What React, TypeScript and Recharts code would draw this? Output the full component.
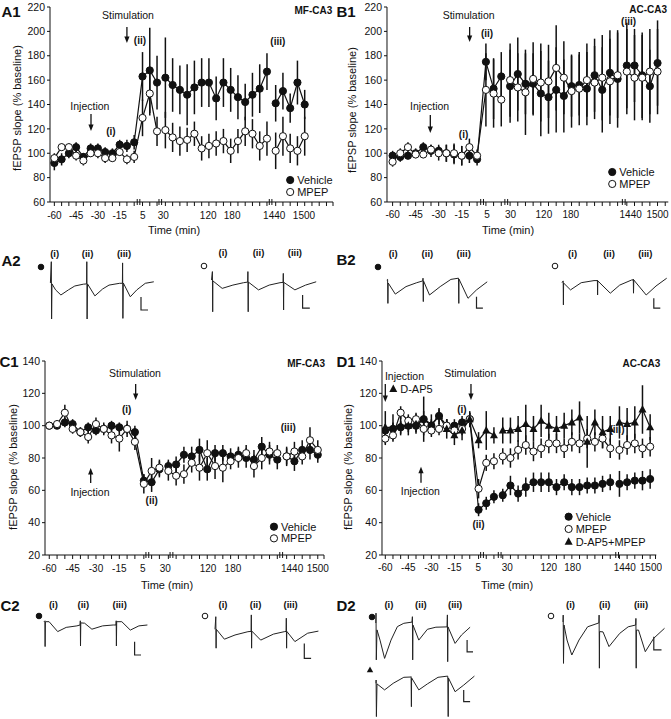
import React from "react";
import { LineChart, Line, XAxis, YAxis, ErrorBar, ReferenceLine, ReferenceDot } from "recharts";

const FONT = '"Liberation Sans", Arial, Helvetica, sans-serif';
const INK = "#111";

// ---- time points (min); the axis is broken after baseline, after 15 min and after 240 min ----
const baselineTimes = [-60, -55, -50, -45, -40, -35, -30, -25, -20, -15, -10, -5];
const earlyTimes = [5, 10, 15];
const lateTimes = [30, 45, 60, 75, 90, 105, 120, 135, 150, 165, 180, 195, 210, 225, 240];
const dayTimes = [1440, 1455, 1470, 1485, 1500];
const times = [...baselineTimes, ...earlyTimes, ...lateTimes, ...dayTimes];
const tickLabels = ["-60", "-45", "-30", "-15", "5", "30", "120", "180", "1440", "1500"];

// ---- A1: MF-CA3 LTP (% baseline) ----
const a1Vehicle = [92, 95, 100, 105, 97, 104, 104, 101, 100, 107, 106, 109, 163, 168, 158, 162, 156, 152, 148, 154, 158, 158, 145, 158, 152, 146, 142, 148, 153, 167, 141, 151, 137, 158, 140];
const a1VehicleSem = [6, 5, 4, 4, 3, 4, 4, 4, 4, 4, 5, 6, 20, 35, 22, 33, 22, 20, 25, 22, 20, 20, 18, 20, 18, 18, 15, 18, 20, 15, 15, 15, 12, 18, 12];
const a1Mpep = [96, 105, 105, 98, 94, 100, 100, 96, 96, 101, 95, 97, 129, 149, 118, 119, 113, 110, 111, 116, 104, 106, 108, 110, 102, 110, 118, 116, 106, 112, 102, 114, 104, 102, 114];
const a1MpepSem = [4, 3, 3, 4, 4, 3, 4, 4, 3, 3, 4, 5, 15, 18, 12, 15, 12, 12, 10, 10, 10, 10, 10, 10, 10, 10, 12, 12, 12, 14, 15, 16, 12, 12, 16];

// ---- B1: AC-CA3 LTP ----
const b1Vehicle = [98, 97, 98, 100, 105, 102, 102, 100, 99, 98, 98, 95, 175, 153, 163, 155, 165, 157, 157, 149, 146, 152, 147, 155, 156, 153, 164, 152, 166, 161, 172, 172, 164, 155, 174];
const b1VehicleSem = [4, 4, 3, 4, 4, 5, 5, 7, 8, 8, 6, 5, 15, 25, 20, 30, 30, 25, 25, 35, 30, 35, 30, 25, 25, 30, 30, 35, 35, 40, 35, 30, 35, 30, 35];
const b1Mpep = [93, 100, 105, 99, 99, 103, 100, 100, 100, 98, 105, 98, 152, 149, 144, 160, 154, 150, 161, 158, 159, 170, 162, 151, 153, 160, 158, 162, 159, 164, 167, 162, 162, 167, 167];
const b1MpepSem = [4, 4, 4, 3, 3, 4, 6, 7, 8, 8, 7, 5, 30, 28, 22, 30, 28, 35, 30, 32, 30, 35, 30, 30, 30, 30, 30, 35, 35, 35, 35, 35, 35, 35, 35];

// ---- C1: MF-CA3 LTD ----
const c1Vehicle = [100, 100, 102, 101, 96, 99, 97, 98, 100, 99, 98, 96, 66, 65, 73, 75, 76, 82, 81, 85, 73, 83, 83, 81, 82, 80, 79, 87, 82, 79, 81, 78, 85, 85, 82];
const c1VehicleSem = [2, 2, 3, 3, 3, 3, 3, 3, 3, 3, 3, 4, 4, 6, 5, 4, 5, 5, 6, 7, 7, 5, 5, 5, 5, 6, 6, 6, 6, 6, 6, 6, 6, 6, 5];
const c1Mpep = [100, 101, 108, 98, 96, 93, 101, 98, 94, 92, 98, 90, 64, 72, 74, 72, 69, 70, 77, 74, 83, 75, 74, 78, 80, 83, 75, 80, 84, 83, 81, 84, 81, 91, 85];
const c1MpepSem = [2, 2, 5, 3, 3, 4, 4, 4, 5, 8, 5, 5, 6, 8, 5, 6, 6, 6, 6, 8, 8, 8, 9, 5, 6, 5, 7, 7, 6, 5, 5, 6, 5, 8, 6];

// ---- D1: AC-CA3 LTD ----
const d1Vehicle = [97, 98, 99, 100, 100, 104, 100, 106, 100, 100, 102, 104, 48, 52, 56, 57, 63, 58, 62, 65, 65, 65, 62, 65, 62, 62, 63, 63, 64, 65, 64, 65, 66, 66, 67];
const d1VehicleSem = [4, 4, 4, 4, 4, 5, 4, 4, 4, 4, 4, 4, 4, 4, 4, 4, 6, 5, 6, 6, 6, 6, 5, 5, 5, 5, 5, 5, 5, 5, 8, 5, 5, 6, 6];
const d1Mpep = [92, 94, 108, 103, 104, 98, 97, 98, 100, 97, 98, 104, 61, 77, 78, 81, 80, 85, 88, 84, 86, 89, 89, 86, 90, 89, 92, 90, 92, 86, 85, 88, 89, 86, 87];
const d1MpepSem = [4, 4, 4, 4, 4, 4, 4, 4, 4, 4, 4, 4, 6, 5, 5, 5, 6, 6, 6, 6, 6, 6, 6, 6, 6, 6, 6, 6, 6, 6, 6, 6, 6, 6, 6];
const d1Dap5 = [99, 99, 100, 100, 101, 104, 101, 106, 98, 94, 97, 104, 91, 97, 94, 97, 97, 98, 101, 98, 103, 100, 98, 100, 102, 105, 90, 102, 96, 98, 102, 101, 102, 110, 99];
const d1Dap5Sem = [10, 8, 6, 6, 6, 14, 6, 5, 6, 6, 6, 5, 5, 12, 5, 8, 8, 8, 12, 8, 10, 8, 8, 8, 8, 10, 16, 8, 10, 8, 10, 10, 10, 15, 8];

// ---- example sweeps: [time (ms), amplitude (mV)] ----
const a2VehicleSweep = [[2.4, 0], [3.3, 0.71], [3.6, -1.2], [4, -0.03], [7.6, -0.23], [12.9, -0.4], [20.4, -0.23], [26.8, -0.1], [35.3, -0.04], [38.6, -0.03], [38.8, 0.71], [39.1, -1.2], [39.5, -0.03], [46.9, -0.43], [54.6, -0.2], [61, -0.07], [71.7, -0.01], [74.4, -0.01], [74.6, 0.67], [74.9, -1.18], [75.3, 0], [82.3, -0.46], [88.8, -0.23], [97.3, -0.01], [105.8, 0.04]];
const a2MpepSweep = [[3.5, 0], [4.4, 0.28], [4.7, -1.06], [4.9, -0.03], [14.2, -0.28], [24.9, -0.17], [35.6, -0.09], [39.7, -0.07], [39.9, 0.28], [40.2, -1.06], [40.4, -0.07], [50.5, -0.33], [61.2, -0.17], [72, -0.09], [75.1, -0.08], [75.3, 0.22], [75.6, -1.0], [75.8, -0.08], [86.9, -0.33], [97.6, -0.17], [108.2, -0.06]];
const b2VehicleSweep = [[2.8, 0], [3.6, 0.02], [3.9, -0.78], [4.2, -0.1], [11.3, -0.47], [22, -0.22], [32.7, -0.09], [38.8, -0.03], [39, 0.06], [39.3, -0.72], [39.5, -0.03], [45.5, -0.5], [56.2, -0.22], [66.9, 0.02], [74.3, 0.06], [74.5, 0.06], [74.8, -0.78], [75, 0.03], [84, -0.61], [92.5, -0.33], [103.2, -0.06]];
const b2MpepSweep = [[4, 0], [5.2, 0.06], [5.4, -0.74], [5.6, -0.01], [12.5, -0.24], [23.2, 0], [36, 0.07], [39.2, 0.07], [39.4, 0.09], [39.6, -0.41], [39.8, 0.06], [52.3, -0.35], [61.7, -0.08], [73.6, 0.09], [75.1, 0.09], [75.3, 0.12], [75.5, -0.35], [75.8, 0.09], [88.2, -0.41], [98, -0.11], [108.7, 0.15]];
const c2VehicleSweep = [[4, 0], [4.9, 0.03], [5.1, -0.83], [5.4, 0], [9.1, 0], [17.7, -0.33], [26.2, -0.19], [36.9, -0.14], [40.1, -0.11], [40.3, 0.03], [40.5, -0.81], [40.8, -0.04], [44.6, -0.05], [51.9, -0.25], [62.6, -0.14], [73.2, -0.11], [76, -0.11], [76.2, 0.03], [76.4, -0.81], [76.7, 0], [81.8, 0], [90.3, -0.28], [98.9, -0.14], [107.4, -0.11]];
const c2MpepSweep = [[5, 0], [5.8, 0.42], [6.1, -0.63], [6.3, 0], [14.4, -0.33], [25, -0.19], [37.9, -0.08], [41.1, -0.07], [41.3, 0.48], [41.6, -0.63], [41.8, -0.06], [50.7, -0.36], [63.5, -0.16], [74.2, -0.08], [76.1, -0.07], [76.3, 0.37], [76.6, -0.63], [76.8, -0.07], [84.9, -0.41], [97.7, -0.13], [108.4, -0.06]];
const d2VehicleSweep = [[3.8, 0], [4, 0.33], [4.3, -1.23], [5, -0.23], [8, -0.57], [12.6, -1.18], [19, -0.57], [25.4, -0.12], [31.8, -0.01], [40, 0.03], [40.4, 0.21], [40.7, -1.23], [41, -0.07], [46.8, -0.57], [55.4, -0.21], [63.9, -0.14], [75, -0.13], [75.4, 0.27], [75.7, -1.29], [76, -0.13], [83.1, -0.68], [89.5, -0.4], [98.1, -0.14]];
const d2Dap5Sweep = [[4, 0], [4.1, 0.11], [4.4, -1.11], [5, -0.02], [12.6, -0.22], [21.2, 0], [31.8, 0.2], [38.9, 0.21], [39.1, 0.22], [39.4, -0.78], [39.6, 0.18], [46.8, -0.22], [55.4, -0.02], [66, 0.2], [75.7, 0.24], [75.9, 0.11], [76.2, -1.11], [76.4, 0.18], [83.1, -0.28], [91.7, -0.06], [102.4, 0.24]];
const d2MpepSweep = [[5, 0], [5.2, 0.23], [5.5, -1.38], [6, -0.1], [9, -0.6], [13.8, -1.1], [21, -0.6], [29.6, -0.16], [40.9, -0.03], [41.1, 0.23], [41.4, -1.54], [41.6, -0.32], [45, -0.33], [51, -0.82], [61.7, -0.38], [70.2, -0.16], [77.7, -0.1], [77.9, 0.12], [78.2, -1.54], [78.4, -0.27], [80.5, -0.27], [87.3, -0.99], [95.8, -0.54], [106.5, -0.21]];

// scale bars [time (ms), mV]
const a2VehicleBar = [[93, -0.47], [93, -0.9], [100, -0.9]];
const a2MpepBar = [[94.6, -0.5], [94.6, -0.94], [101.8, -0.94]];
const b2VehicleBar = [[92.5, -0.56], [92.5, -0.94], [98.9, -0.94]];
const b2MpepBar = [[95.8, -0.52], [95.8, -0.85], [102.3, -0.85]];
const c2VehicleBar = [[94.6, -0.67], [94.6, -1.11], [101, -1.11]];
const c2MpepBar = [[94.3, -0.47], [94.3, -0.97], [101.1, -0.97]];
const d2VehicleBar = [[95.1, -0.57], [95.1, -0.96], [101, -0.96]];
const d2Dap5Bar = [[91.7, -0.22], [91.7, -0.61], [98.1, -0.61]];
const d2MpepBar = [[95.8, -0.49], [95.8, -0.93], [103.5, -0.93]];

type Marker = "filled" | "open" | "triangle";

// position of a time point on the broken axis
const slotOf = (i: number) =>
  i < 12 ? i : i < 15 ? 12.15 + (i - 12) : i < 30 ? 15.3 + (i - 15) : 30.5 + (i - 30);

function segments(values: number[], sem: number[]) {
  const rows = values.map((v, i) => ({ s: slotOf(i), t: times[i], v, e: sem[i] }));
  return [rows.slice(0, 15), rows.slice(15, 30), rows.slice(30)];
}

function markerEl(m: Marker, cx: number, cy: number, r = 3.6) {
  if (m === "triangle")
    return <path d={`M${cx},${cy - r - 0.8} L${cx + r + 0.4},${cy + r - 0.6} L${cx - r - 0.4},${cy + r - 0.6} Z`} fill={INK} />;
  return <circle cx={cx} cy={cy} r={r} fill={m === "filled" ? INK : "#fff"} stroke={INK} strokeWidth={1} />;
}

type Note =
  | { kind: "text"; x: number; y: number; text: string; anchor?: "start" | "middle" | "end"; bold?: boolean; size?: number }
  | { kind: "down" | "up"; x: number; y: number; len: number }
  | { kind: "key"; x: number; y: number; text: string; marker: Marker };

type Series = { values: number[]; sem: number[]; marker: Marker };

type PanelCfg = {
  plotLeft: number; plotRight: number; plotTop: number; plotBottom: number;
  xDomain: [number, number]; yDomain: [number, number]; yTicks: number[];
  labelSlots: number[]; extraMarks: number[]; breaks: number[];
  series: Series[]; notes: Note[];
};

function noteShape(n: Note) {
  if (n.kind === "text")
    return (p: any) => (
      <text x={p.cx} y={p.cy} dy="0.36em" textAnchor={n.anchor || "middle"} fontSize={n.size || 10.5}
        fontWeight={n.bold ? 700 : 400} fontFamily={FONT} fill={INK}>{n.text}</text>
    );
  if (n.kind === "key")
    return (p: any) => (
      <g>
        {markerEl(n.marker, p.cx, p.cy)}
        <text x={p.cx + 7} y={p.cy} dy="0.36em" fontSize={11} fontFamily={FONT} fill={INK}>{n.text}</text>
      </g>
    );
  const s = n.kind === "down" ? -1 : 1;
  const len = n.len;
  return (p: any) => (
    <g>
      <line x1={p.cx} y1={p.cy + s * len} x2={p.cx} y2={p.cy + s * 4} stroke={INK} strokeWidth={1.3} />
      <path d={`M${p.cx - 2.6},${p.cy + s * 6.5} L${p.cx + 2.6},${p.cy + s * 6.5} L${p.cx},${p.cy} Z`} fill={INK} />
    </g>
  );
}

function Panel({ cfg }: { cfg: PanelCfg }) {
  const left = cfg.plotLeft - 45;
  const top = cfg.plotTop - 7;
  const width = cfg.plotRight + 6 - left;
  const height = cfg.plotBottom + 22 - top;
  const marks = [...times.map((_, i) => slotOf(i)), ...cfg.extraMarks];
  const ticks = Array.from(new Set([...marks, ...cfg.labelSlots])).sort((a, b) => a - b);
  const unitsPerPx = (cfg.yDomain[1] - cfg.yDomain[0]) / (cfg.plotBottom - cfg.plotTop);
  const y0 = cfg.yDomain[0];

  const renderTick = (p: any) => {
    const v = p.payload.value;
    const isMark = marks.some((m) => Math.abs(m - v) < 1e-6);
    const li = cfg.labelSlots.findIndex((m) => Math.abs(m - v) < 1e-6);
    return (
      <g>
        {isMark && <line x1={p.x} x2={p.x} y1={p.y} y2={p.y + 4} stroke={INK} strokeWidth={1} />}
        {li >= 0 && (
          <text x={p.x} y={p.y + 16.5} textAnchor="middle" fontSize={10} fontFamily={FONT} fill={INK}>
            {tickLabels[li]}
          </text>
        )}
      </g>
    );
  };

  return (
    <div style={{ position: "absolute", left, top }}>
      <LineChart width={width} height={height} margin={{ top: 7, right: 6, left: 10, bottom: 2 }}>
        <XAxis type="number" dataKey="s" domain={cfg.xDomain} allowDataOverflow ticks={ticks} interval={0}
          tick={renderTick} tickLine={false} tickSize={0} tickMargin={0} height={20}
          axisLine={{ stroke: INK, strokeWidth: 1 }} />
        <YAxis type="number" domain={cfg.yDomain} allowDataOverflow ticks={cfg.yTicks} interval={0} width={35}
          tickSize={3} tickMargin={2} tick={{ fontSize: 10.5, fill: INK, fontFamily: FONT }}
          axisLine={{ stroke: INK, strokeWidth: 1 }} tickLine={{ stroke: INK }} />
        {cfg.breaks.flatMap((b, bi) =>
          [-0.18, 0.18].map((d, di) => (
            <ReferenceLine key={`br${bi}-${di}`} ifOverflow="visible" stroke={INK} strokeWidth={1}
              segment={[{ x: b + d, y: y0 - 3 * unitsPerPx }, { x: b + d, y: y0 + 3 * unitsPerPx }]} />
          ))
        )}
        {cfg.series.flatMap((sr, si) =>
          segments(sr.values, sr.sem).map((seg, gi) => (
            <Line key={`l${si}-${gi}`} data={seg} dataKey="v" stroke={INK} strokeWidth={1.2}
              isAnimationActive={false} activeDot={false}
              dot={
                sr.marker === "triangle"
                  ? (p: any) => <g key={`d${si}-${gi}-${p.index}`}>{markerEl("triangle", p.cx, p.cy)}</g>
                  : { r: 3.6, fill: sr.marker === "filled" ? INK : "#fff", stroke: INK, strokeWidth: 1 }
              }>
              <ErrorBar dataKey="e" width={0} stroke={INK} strokeWidth={1.5} direction="y" />
            </Line>
          ))
        )}
        {cfg.notes.map((n, i) => (
          <ReferenceDot key={`n${i}`} x={n.x} y={n.y} r={1} ifOverflow="visible" shape={noteShape(n)} />
        ))}
      </LineChart>
    </div>
  );
}

const yTicksLtp = [60, 80, 100, 120, 140, 160, 180, 200, 220];
const yTicksLtd = [20, 40, 60, 80, 100, 120, 140];

const panelA1: PanelCfg = {
  plotLeft: 50, plotRight: 333, plotTop: 7, plotBottom: 202,
  xDomain: [-0.6, 38.4], yDomain: [60, 220], yTicks: yTicksLtp,
  labelSlots: [0, 3, 6, 9, 12.2, 15.0, 21.2, 24.5, 30.3, 34.4],
  extraMarks: [35.5, 36.5, 37.5, 38.4], breaks: [11.6, 14.6, 29.8],
  series: [
    { values: a1Vehicle, sem: a1VehicleSem, marker: "filled" },
    { values: a1Mpep, sem: a1MpepSem, marker: "open" },
  ],
  notes: [
    { kind: "text", x: 10.15, y: 213.4, text: "Stimulation" },
    { kind: "down", x: 10.0, y: 190.5, len: 16 },
    { kind: "text", x: 11.8, y: 192.9, text: "(ii)", bold: true, size: 10 },
    { kind: "text", x: 4.9, y: 138.8, text: "Injection" },
    { kind: "down", x: 5.05, y: 118.3, len: 17 },
    { kind: "text", x: 7.8, y: 118.3, text: "(i)", bold: true, size: 10 },
    { kind: "text", x: 30.8, y: 192, text: "(iii)", bold: true, size: 10 },
    { kind: "text", x: 38.3, y: 217.5, text: "MF-CA3", anchor: "end", bold: true, size: 10 },
    { kind: "key", x: 32.5, y: 78, text: "Vehicle", marker: "filled" },
    { kind: "key", x: 32.5, y: 68.2, text: "MPEP", marker: "open" },
  ],
};

const panelB1: PanelCfg = {
  plotLeft: 386.7, plotRight: 668, plotTop: 7, plotBottom: 202,
  xDomain: [-0.73, 35.9], yDomain: [60, 220], yTicks: yTicksLtp,
  labelSlots: [0, 3, 6, 9, 12.3, 15.35, 19.7, 23.2, 31.0, 34.5],
  extraMarks: [35.5], breaks: [11.65, 14.8, 30.1],
  series: [
    { values: b1Vehicle, sem: b1VehicleSem, marker: "filled" },
    { values: b1Mpep, sem: b1MpepSem, marker: "open" },
  ],
  notes: [
    { kind: "text", x: 9.9, y: 213.4, text: "Stimulation" },
    { kind: "down", x: 10.03, y: 191.3, len: 15 },
    { kind: "text", x: 12.29, y: 198.7, text: "(ii)", bold: true, size: 10 },
    { kind: "text", x: 4.82, y: 138.8, text: "Injection" },
    { kind: "down", x: 4.91, y: 116.6, len: 18 },
    { kind: "text", x: 9.24, y: 115.8, text: "(i)", bold: true, size: 10 },
    { kind: "text", x: 30.73, y: 208.5, text: "(iii)", bold: true, size: 10 },
    { kind: "text", x: 35.73, y: 218.3, text: "AC-CA3", anchor: "end", bold: true, size: 10 },
    { kind: "key", x: 28.6, y: 84.6, text: "Vehicle", marker: "filled" },
    { kind: "key", x: 28.6, y: 74.8, text: "MPEP", marker: "open" },
  ],
};

const panelC1: PanelCfg = {
  plotLeft: 45, plotRight: 324, plotTop: 361, plotBottom: 555,
  xDomain: [-0.55, 35.3], yDomain: [20, 140], yTicks: yTicksLtd,
  labelSlots: [0, 3, 6, 9, 12.0, 14.9, 20.4, 23.6, 31.2, 34.5],
  extraMarks: [35.3], breaks: [12.6, 15.7, 29.8],
  series: [
    { values: c1Vehicle, sem: c1VehicleSem, marker: "filled" },
    { values: c1Mpep, sem: c1MpepSem, marker: "open" },
  ],
  notes: [
    { kind: "text", x: 11.01, y: 132.4, text: "Stimulation" },
    { kind: "down", x: 11.1, y: 115.9, len: 16 },
    { kind: "text", x: 9.95, y: 110.1, text: "(i)", bold: true, size: 10 },
    { kind: "text", x: 13.16, y: 54, text: "(ii)", bold: true, size: 10 },
    { kind: "text", x: 5.23, y: 58.8, text: "Injection" },
    { kind: "up", x: 5.32, y: 73.8, len: 15 },
    { kind: "text", x: 30.71, y: 99.2, text: "(iii)", bold: true, size: 10 },
    { kind: "text", x: 35.43, y: 138.6, text: "MF-CA3", anchor: "end", bold: true, size: 10 },
    { kind: "key", x: 28.87, y: 37.5, text: "Vehicle", marker: "filled" },
    { kind: "key", x: 28.87, y: 30.3, text: "MPEP", marker: "open" },
  ],
};

const panelD1: PanelCfg = {
  plotLeft: 381.7, plotRight: 656, plotTop: 361, plotBottom: 555,
  xDomain: [-0.43, 35.3], yDomain: [20, 140], yTicks: yTicksLtd,
  labelSlots: [0, 3, 6, 9, 12.1, 15.9, 21.3, 24.4, 31.2, 34.6],
  extraMarks: [35.2], breaks: [12.6, 14.9, 30.2],
  series: [
    { values: d1Vehicle, sem: d1VehicleSem, marker: "filled" },
    { values: d1Mpep, sem: d1MpepSem, marker: "open" },
    { values: d1Dap5, sem: d1Dap5Sem, marker: "triangle" },
  ],
  notes: [
    { kind: "text", x: -0.05, y: 130.7, text: "Injection", anchor: "start" },
    { kind: "down", x: 0.0, y: 114.6, len: 18 },
    { kind: "key", x: 1.04, y: 122.7, text: "D-AP5", marker: "triangle" },
    { kind: "text", x: 11.07, y: 132.6, text: "Stimulation" },
    { kind: "down", x: 11.16, y: 115.9, len: 16 },
    { kind: "text", x: 9.99, y: 110.3, text: "(i)", bold: true, size: 10 },
    { kind: "text", x: 12.15, y: 39.2, text: "(ii)", bold: true, size: 10 },
    { kind: "text", x: 4.56, y: 59.2, text: "Injection" },
    { kind: "up", x: 4.65, y: 74.6, len: 16 },
    { kind: "text", x: 30.18, y: 97.9, text: "(iii)", bold: true, size: 10 },
    { kind: "text", x: 35.82, y: 138.8, text: "AC-CA3", anchor: "end", bold: true, size: 10 },
    { kind: "key", x: 23.88, y: 43.7, text: "Vehicle", marker: "filled" },
    { kind: "key", x: 23.88, y: 36.1, text: "MPEP", marker: "open" },
    { kind: "key", x: 23.88, y: 28.2, text: "D-AP5+MPEP", marker: "triangle" },
  ],
};

type SweepCfg = { left: number; top: number; width: number; height: number; vDomain: [number, number]; trace: number[][]; bar: number[][] };

const sweeps: SweepCfg[] = [
  { left: 48, top: 258, width: 110, height: 64, vDomain: [-1.3, 0.833], trace: a2VehicleSweep, bar: a2VehicleBar },
  { left: 208, top: 258, width: 112, height: 60, vDomain: [-1.267, 0.733], trace: a2MpepSweep, bar: a2MpepBar },
  { left: 384, top: 272, width: 110, height: 40, vDomain: [-1.067, 0.267], trace: b2VehicleSweep, bar: b2VehicleBar },
  { left: 558, top: 272, width: 112, height: 40, vDomain: [-0.977, 0.357], trace: b2MpepSweep, bar: b2MpepBar },
  { left: 40, top: 612, width: 112, height: 48, vDomain: [-1.277, 0.323], trace: c2VehicleSweep, bar: c2VehicleBar },
  { left: 210, top: 610, width: 112, height: 52, vDomain: [-1.09, 0.643], trace: c2MpepSweep, bar: c2MpepBar },
  { left: 372, top: 605, width: 106, height: 60, vDomain: [-1.4, 0.6], trace: d2VehicleSweep, bar: d2VehicleBar },
  { left: 372, top: 672, width: 106, height: 47, vDomain: [-1.19, 0.377], trace: d2Dap5Sweep, bar: d2Dap5Bar },
  { left: 558, top: 605, width: 110, height: 68, vDomain: [-1.7, 0.567], trace: d2MpepSweep, bar: d2MpepBar },
];

function Sweep({ cfg }: { cfg: SweepCfg }) {
  const data = cfg.trace.map(([t, v]) => ({ t, v }));
  const bar = cfg.bar.map(([t, v]) => ({ t, v }));
  return (
    <div style={{ position: "absolute", left: cfg.left, top: cfg.top }}>
      <LineChart width={cfg.width} height={cfg.height} margin={{ top: 0, right: 0, bottom: 0, left: 0 }}>
        <XAxis type="number" dataKey="t" domain={[0, cfg.width]} hide allowDataOverflow />
        <YAxis type="number" domain={cfg.vDomain} hide allowDataOverflow />
        <Line data={data} dataKey="v" stroke="#222" strokeWidth={1} dot={false} activeDot={false} isAnimationActive={false} />
        <Line data={bar} dataKey="v" stroke="#222" strokeWidth={1.2} dot={false} activeDot={false} isAnimationActive={false} />
      </LineChart>
    </div>
  );
}

// sweep labels: [symbol, symbol x, symbol y, x of (i), x of (ii), x of (iii), label y]
const sweepLabels: [Marker, number, number, number, number, number, number][] = [
  ["filled", 40.6, 267, 54.7, 87.6, 124, 254],
  ["open", 204.3, 266, 223, 258.5, 294.9, 253],
  ["filled", 378.2, 267, 393.2, 427.4, 463.7, 254],
  ["open", 554.7, 266, 572.6, 609, 645.3, 254],
  ["filled", 39.3, 616, 53.4, 83.3, 119.7, 605],
  ["open", 205.1, 616, 223, 255.6, 290.6, 605],
  ["filled", 371.8, 617, 388.9, 420.9, 455.1, 605],
  ["open", 551.3, 616, 570.5, 604.7, 641, 605],
];

const Abs = ({ x, y, children, style }: { x: number; y: number; children: React.ReactNode; style?: React.CSSProperties }) => (
  <div style={{ position: "absolute", left: x, top: y, transform: "translate(-50%,-50%)", whiteSpace: "nowrap", lineHeight: 1, ...style }}>
    {children}
  </div>
);

const Sym = ({ m, x, y }: { m: Marker; x: number; y: number }) => (
  <svg style={{ position: "absolute", left: x - 5, top: y - 5 }} width={10} height={10}>
    {markerEl(m, 5, 5, 2.8)}
  </svg>
);

export default function App() {
  const panelLabel = { fontSize: 15, fontWeight: 700 } as React.CSSProperties;
  const yTitle = { fontSize: 11, transform: "translate(-50%,-50%) rotate(-90deg)" } as React.CSSProperties;
  return (
    <div style={{ position: "absolute", left: 0, top: 0, width: 671, height: 719, background: "#fff", fontFamily: FONT, color: INK, overflow: "hidden" }}>
      <Panel cfg={panelA1} />
      <Panel cfg={panelB1} />
      <Panel cfg={panelC1} />
      <Panel cfg={panelD1} />

      <Abs x={11} y={11} style={panelLabel}>A1</Abs>
      <Abs x={346} y={11} style={panelLabel}>B1</Abs>
      <Abs x={9} y={361} style={panelLabel}>C1</Abs>
      <Abs x={346} y={361} style={panelLabel}>D1</Abs>
      <Abs x={11} y={260} style={panelLabel}>A2</Abs>
      <Abs x={346} y={259} style={panelLabel}>B2</Abs>
      <Abs x={10} y={605} style={panelLabel}>C2</Abs>
      <Abs x={346} y={605} style={panelLabel}>D2</Abs>

      <Abs x={17} y={108} style={yTitle}>fEPSP slope (% baseline)</Abs>
      <Abs x={352} y={110} style={yTitle}>fEPSP slope (% baseline)</Abs>
      <Abs x={13} y={467} style={yTitle}>fEPSP slope (% baseline)</Abs>
      <Abs x={348} y={467} style={yTitle}>fEPSP slope (% baseline)</Abs>

      <Abs x={174} y={230} style={{ fontSize: 11 }}>Time (min)</Abs>
      <Abs x={508} y={230} style={{ fontSize: 11 }}>Time (min)</Abs>
      <Abs x={167} y={585} style={{ fontSize: 11 }}>Time (min)</Abs>
      <Abs x={507} y={585} style={{ fontSize: 11 }}>Time (min)</Abs>

      {sweeps.map((s, i) => <Sweep key={`sw${i}`} cfg={s} />)}
      {sweepLabels.map(([m, sx, sy, x1, x2, x3, ly], i) => (
        <React.Fragment key={`sl${i}`}>
          <Sym m={m} x={sx} y={sy} />
          <Abs x={x1} y={ly} style={{ fontSize: 9.5, fontWeight: 700 }}>(i)</Abs>
          <Abs x={x2} y={ly} style={{ fontSize: 9.5, fontWeight: 700 }}>(ii)</Abs>
          <Abs x={x3} y={ly} style={{ fontSize: 9.5, fontWeight: 700 }}>(iii)</Abs>
        </React.Fragment>
      ))}
      <Sym m="triangle" x={369.7} y={670} />
    </div>
  );
}
